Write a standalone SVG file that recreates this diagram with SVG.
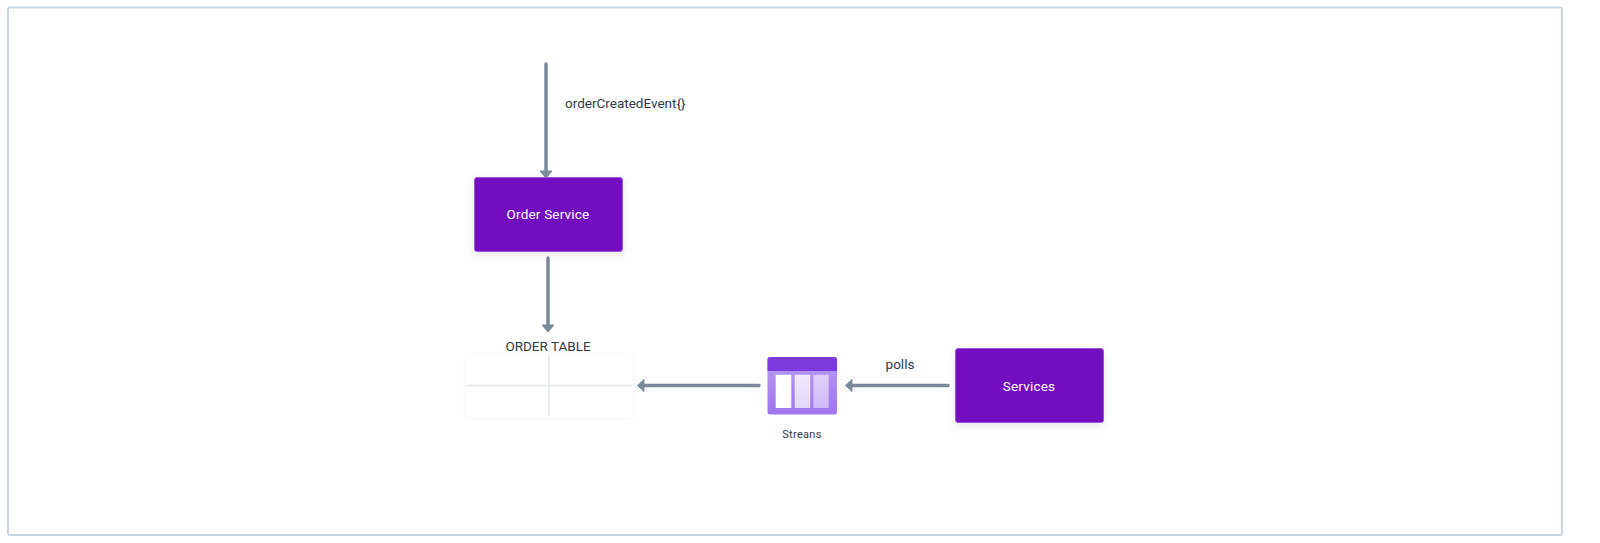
<svg xmlns="http://www.w3.org/2000/svg" width="1600" height="543" viewBox="0 0 1600 543">
<style>
text{font-family:"Roboto","Liberation Sans",sans-serif;fill:#2d3a4a}
.box{fill:#7210c0;stroke:#9a55d6;stroke-width:1}
.lab{font-size:13.5px}
.wt{font-size:13.5px;font-weight:400;letter-spacing:0.2px;fill:#ffffff;text-anchor:middle}
.conn{fill:none;stroke:#7a8a9a;stroke-width:3.5;stroke-linecap:round}
.head{fill:#7a8a9a;stroke:#7a8a9a;stroke-linejoin:round}
</style>
<defs>
<filter id="sh" x="-20%" y="-30%" width="140%" height="170%"><feDropShadow dx="0" dy="3" stdDeviation="4" flood-color="#1a2030" flood-opacity="0.1"/></filter>
<filter id="sh2" x="-10%" y="-15%" width="120%" height="130%"><feDropShadow dx="0" dy="1" stdDeviation="2.5" flood-color="#1a2030" flood-opacity="0.035"/></filter>
<linearGradient id="g1" x1="0" y1="0" x2="0" y2="1"><stop offset="0" stop-color="#b79cf2"/><stop offset="1" stop-color="#a074ee"/></linearGradient>
<linearGradient id="g2" x1="0" y1="0" x2="0" y2="1"><stop offset="0" stop-color="#f0e8fd"/><stop offset="1" stop-color="#e6d9fb"/></linearGradient>
<linearGradient id="g3" x1="0" y1="0" x2="0" y2="1"><stop offset="0" stop-color="#dfd0f9"/><stop offset="1" stop-color="#d0baf6"/></linearGradient>
</defs>
<rect id="frame" x="8" y="7.5" width="1554" height="527.5" rx="2" fill="#ffffff" stroke="#cbd5e1" stroke-width="2"/>
<g id="connectors">
<path class="conn" d="M546 64V172"/>
<path class="head" d="M540 171H552L546 178Z"/>
<path class="conn" d="M548 258V325"/>
<path class="head" d="M542 325H554L548 332Z"/>
<path class="conn" d="M759 385.5H644"/>
<path class="head" d="M644 379.500V391.500L637.500 385.500Z"/>
<path class="conn" d="M948 385.500H852"/>
<path class="head" d="M852 379.500V391.500L845.500 385.500Z"/>
</g>
<g id="order-service">
<rect class="box" x="474.500" y="177.500" width="148" height="74" rx="2.500" filter="url(#sh)"/>
<text class="wt" x="548" y="219">Order Service</text>
</g>
<g id="order-table">
<text class="lab" x="548" y="350.500" text-anchor="middle">ORDER TABLE</text>
<rect x="466" y="354" width="167" height="63" rx="3" fill="#ffffff" filter="url(#sh2)"/>
<path d="M466 385.500H632M549 355V416" stroke="#e8ebf0" stroke-width="2" fill="none"/>
</g>
<g id="streams">
<rect x="767.500" y="357" width="69.500" height="57.500" rx="2.500" fill="url(#g1)"/>
<path d="M767.500 371V359.500a2.500 2.500 0 0 1 2.500-2.500h64.500a2.500 2.500 0 0 1 2.500 2.500V371Z" fill="#7b3bdc"/>
<rect x="775.700" y="374.700" width="15.600" height="33.300" rx="0.800" fill="#ffffff"/>
<rect x="794.700" y="374.700" width="15.600" height="33.300" rx="0.800" fill="url(#g2)"/>
<rect x="813.300" y="374.700" width="15.400" height="33.300" rx="0.800" fill="url(#g3)"/>
<text x="802" y="438" font-size="11" text-anchor="middle" letter-spacing="0.300">Streans</text>
</g>
<g id="polls-label"><text class="lab" x="900" y="369" text-anchor="middle">polls</text></g>
<g id="event-label"><text class="lab" x="565" y="108">orderCreatedEvent{}</text></g>
<g id="services">
<rect class="box" x="955.500" y="348.500" width="148" height="74" rx="2.500" filter="url(#sh)"/>
<text class="wt" x="1029" y="391">Services</text>
</g>
</svg>
